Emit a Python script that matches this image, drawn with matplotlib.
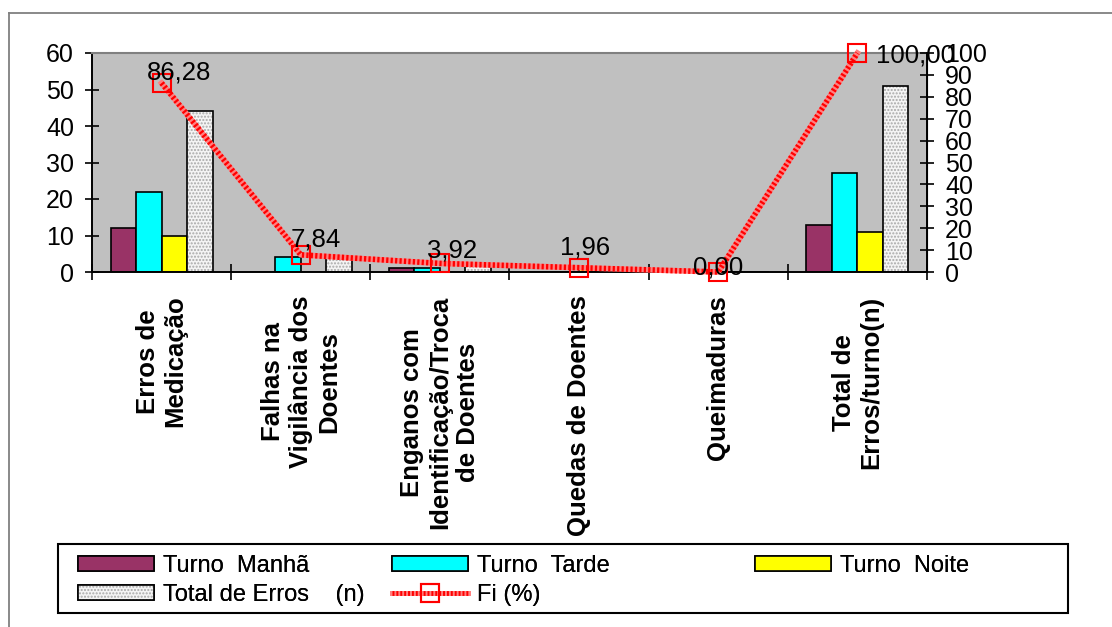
import numpy as np
import matplotlib
matplotlib.use("Agg")
import matplotlib.pyplot as plt
from matplotlib.patches import Patch, Rectangle
from matplotlib.lines import Line2D
from matplotlib.legend_handler import HandlerTuple

plt.rcParams['font.family'] = ['Liberation Sans', 'DejaVu Sans']

# data
categories = ["Erros de\nMedicação", "Falhas na\nVigilância dos\nDoentes",
              "Enganos com\nIdentificação/Troca\nde Doentes", "Quedas de Doentes",
              "Queimaduras", "Total de\nErros/turno(n)"]
turno_manha = [12, 0, 1, 0, 0, 13]
turno_tarde = [22, 4, 1, 0, 0, 27]
turno_noite = [10, 0, 0, 1, 0, 11]
total_erros = [44, 4, 2, 1, 0, 51]
fi_pct = [86.28, 7.84, 3.92, 1.96, 0.00, 100.00]
fi_labels = ["86,28", "7,84", "3,92", "1,96", "0,00", "100,00"]

# label offsets in pixels (style only)
label_offsets = [(17, 11), (15, 15), (12, 13), (6, 20), (0, 4), (58, -2)]

W, H = 1112, 627
fig = plt.figure(figsize=(W / 100, H / 100), dpi=100)
ax = fig.add_axes([92 / W, 1 - 272 / H, (927 - 92) / W, (272 - 53) / H])
ax.set_facecolor('#c0c0c0')

x = np.arange(len(categories))
bw = 0.183
ax.bar(x - 1.5 * bw, turno_manha, bw, color='#993366', edgecolor='black', linewidth=1.2, zorder=2)
ax.bar(x - 0.5 * bw, turno_tarde, bw, color='#00ffff', edgecolor='black', linewidth=1.2, zorder=2)
ax.bar(x + 0.5 * bw, turno_noite, bw, color='#ffff00', edgecolor='black', linewidth=1.2, zorder=2)
ax.bar(x + 1.5 * bw, total_erros, bw, color='#f4f4f4', edgecolor='#a8a8a8', hatch='.....',
       linewidth=0, zorder=2)
ax.bar(x + 1.5 * bw, total_erros, bw, fill=False, edgecolor='black', linewidth=1.2, zorder=3)

ax.set_xlim(-0.5, len(categories) - 0.5)
ax.set_ylim(0, 60)
ax.set_yticks(np.arange(0, 61, 10))
ax.tick_params(axis='y', direction='inout', length=10, width=1.2, labelsize=18, pad=8)

ax.set_xticks(x)
ax.set_xticklabels(categories, rotation=90, va='top', ha='center', multialignment='center',
                   fontweight='bold', fontsize=18.5)
ax.tick_params(axis='x', length=0, pad=17)
ax.set_xticks(np.arange(-0.5, len(categories), 1), minor=True)
ax.tick_params(axis='x', which='minor', direction='inout', length=12, width=1.2)

for s in ['left', 'bottom']:
    ax.spines[s].set_linewidth(1.4)
ax.spines['top'].set_color('#808080')
ax.spines['top'].set_linewidth(1.5)

ax2 = ax.twinx()
ax2.set_ylim(0, 100)
ax2.set_yticks(np.arange(0, 101, 10))
ax2.tick_params(axis='y', direction='inout', length=10, width=1.2, labelsize=18, pad=8)
ax2.spines['right'].set_linewidth(1.4)
for s in ['top', 'left', 'bottom']:
    ax2.spines[s].set_visible(False)

ax2.plot(x, fi_pct, color='#ff8080', linewidth=4, zorder=3, clip_on=False)
ax2.plot(x, fi_pct, color='#ff0000', linewidth=4, linestyle=(0, (0.4, 0.4)), zorder=3, clip_on=False)
ax2.plot(x, fi_pct, linestyle='none', marker='s', markersize=13, markerfacecolor='none',
         markeredgecolor='#ff0000', markeredgewidth=1.5, zorder=4, clip_on=False)

for xi, yi, lab, (dx, dy) in zip(x, fi_pct, fi_labels, label_offsets):
    ax2.annotate(lab, (xi, yi), xytext=(dx * 0.72, dy * 0.72), textcoords='offset points',
                 ha='center', va='center', fontsize=18.5, zorder=5, annotation_clip=False)

# legend
h_manha = Patch(facecolor='#993366', edgecolor='black', linewidth=1.2)
h_tarde = Patch(facecolor='#00ffff', edgecolor='black', linewidth=1.2)
h_noite = Patch(facecolor='#ffff00', edgecolor='black', linewidth=1.2)
h_total = (Patch(facecolor='#f4f4f4', edgecolor='#a8a8a8', hatch='.....', linewidth=0),
           Patch(fill=False, edgecolor='black', linewidth=1.2))
h_fi = (Line2D([], [], color='#ff8080', linewidth=3.5),
        Line2D([], [], color='#ff0000', linewidth=3.5, linestyle=(0, (0.4, 0.4))),
        Line2D([], [], linestyle='none', marker='s', markersize=13, markerfacecolor='none',
               markeredgecolor='#ff0000', markeredgewidth=1.5))

legend_cols = [
    ([h_manha, h_total], ["Turno  Manhã", "Total de Erros    (n)"], 78),
    ([h_tarde, h_fi], ["Turno  Tarde", "Fi (%)"], 392),
    ([h_noite], ["Turno  Noite"], 755),
]
for handles, labels, xpx in legend_cols:
    leg = fig.legend(handles, labels, loc='upper left', bbox_to_anchor=(xpx / W, 1 - 555 / H),
                     frameon=False, fontsize=17, borderpad=0, borderaxespad=0,
                     handlelength=3.2, handleheight=0.6, handletextpad=0.4, labelspacing=0.3,
                     handler_map={tuple: HandlerTuple(ndivide=1)})
    fig.add_artist(leg)

fig.add_artist(Rectangle((58 / W, 1 - 613 / H), 1010 / W, 69 / H, transform=fig.transFigure,
                         fill=False, edgecolor='black', linewidth=1.5))

# chart area border
fig.add_artist(Line2D([8.5 / W, 8.5 / W], [0, 1 - 13 / H], transform=fig.transFigure,
                      color='#808080', linewidth=1.3))
fig.add_artist(Line2D([8.5 / W, 1], [1 - 13 / H, 1 - 13 / H], transform=fig.transFigure,
                      color='#808080', linewidth=1.3))

fig.savefig('out.png', dpi=100)
